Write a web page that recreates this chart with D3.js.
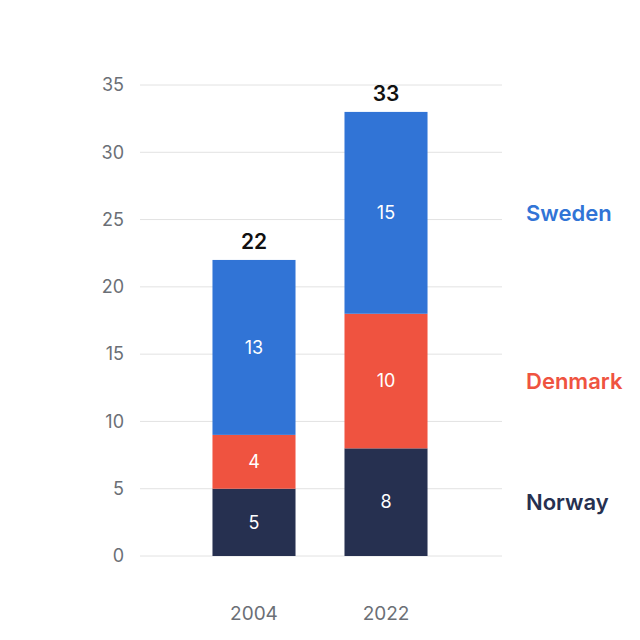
<!DOCTYPE html>
<html>
<head>
<meta charset="utf-8">
<script src="https://cdn.jsdelivr.net/npm/d3@7/dist/d3.min.js"></script>
<style>
  body { margin: 0; background: #fff; }
  svg { font-family: Inter, "Noto Sans", sans-serif; }
  .grid line { stroke: #e2e2e2; stroke-width: 1; }
  .tick-num { fill: #6b6f76; font-size: 18px; }
  .cat { fill: #6b6f76; font-size: 19px; }
  .seg-num { fill: #fff; font-size: 18px; }
  .total { fill: #111; font-size: 21px; font-weight: 600; }
  .legend { font-size: 22px; font-weight: 600; }
</style>
</head>
<body>
<svg id="chart" width="640" height="640"></svg>
<script>
const years = [ '2004', '2022' ]
const countries = [ 'Norway', 'Denmark', 'Sweden' ]
const norway = [ 5, 8 ]
const denmark = [ 4, 10 ]
const sweden = [ 13, 15 ]
const totals = [ 22, 33 ]
const yTicks = [ 0, 5, 10, 15, 20, 25, 30, 35 ]
const colors = [ '#263050', '#ef5340', '#3174d6' ]

const svg = d3.select('#chart')

const rows = years.map((y, i) => ({ year: y, Norway: norway[i], Denmark: denmark[i], Sweden: sweden[i] }))
const stack = d3.stack().keys(countries)(rows)

const xScale = d3.scaleBand()
    .domain(years)
    .range([ 140, 500 ])
    .paddingInner(0.371)
    .paddingOuter(0.549)

const yScale = d3.scaleLinear()
    .domain([ 0, 35 ])
    .range([ 556, 85 ])

const gs = svg.append('g').attr('class', 'grid')
    .selectAll('g')
    .data(yTicks)
    .enter()
    .append('g')
    .attr('transform', d => `translate(0,${yScale(d)})`)

gs.append('line')
    .attr('x1', 140)
    .attr('x2', 502)

gs.append('text')
    .attr('class', 'tick-num')
    .attr('x', 124)
    .attr('dy', '0.35em')
    .attr('text-anchor', 'end')
    .text(d => d)

const layers = svg.selectAll('.layer')
    .data(stack)
    .enter()
    .append('g')
    .attr('fill', (d, i) => colors[i])

layers.selectAll('rect')
    .data(d => d)
    .enter()
    .append('rect')
    .attr('x', d => xScale(d.data.year))
    .attr('width', xScale.bandwidth())
    .attr('y', d => yScale(d[1]))
    .attr('height', d => yScale(d[0]) - yScale(d[1]))

layers.selectAll('text')
    .data(d => d)
    .enter()
    .append('text')
    .attr('class', 'seg-num')
    .attr('x', d => xScale(d.data.year) + xScale.bandwidth() / 2)
    .attr('y', d => yScale((d[0] + d[1]) / 2))
    .attr('dy', '0.35em')
    .attr('text-anchor', 'middle')
    .text(d => d[1] - d[0])

svg.selectAll('.total')
    .data(years)
    .enter()
    .append('text')
    .attr('class', 'total')
    .attr('x', d => xScale(d) + xScale.bandwidth() / 2)
    .attr('y', (d, i) => yScale(totals[i]) - 11)
    .attr('text-anchor', 'middle')
    .text((d, i) => totals[i])

svg.selectAll('.cat')
    .data(years)
    .enter()
    .append('text')
    .attr('class', 'cat')
    .attr('x', d => xScale(d) + xScale.bandwidth() / 2)
    .attr('y', 613)
    .attr('dy', '0.35em')
    .attr('text-anchor', 'middle')
    .text(d => d)

// legend sits next to the last bar's segments
const last = years.length - 1
svg.selectAll('.legend')
    .data(stack)
    .enter()
    .append('text')
    .attr('class', 'legend')
    .attr('x', 526)
    .attr('y', d => yScale((d[last][0] + d[last][1]) / 2))
    .attr('dy', '0.35em')
    .attr('fill', (d, i) => colors[i])
    .text(d => d.key)
</script>
</body>
</html>
